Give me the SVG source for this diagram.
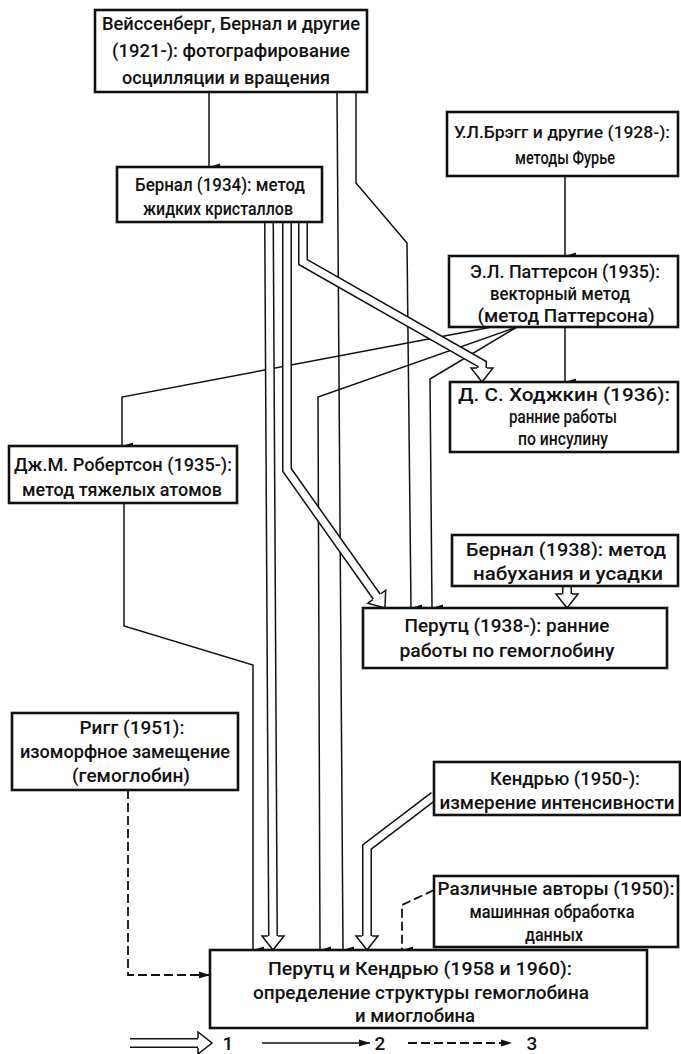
<svg xmlns="http://www.w3.org/2000/svg" width="681" height="1054" viewBox="0 0 681 1054">
<defs>
<marker id="arr" markerWidth="8" markerHeight="12" refX="4" refY="11" orient="auto" markerUnits="userSpaceOnUse" viewBox="0 0 8 12">
<path d="M0.5,0 L4,11 L7.5,0 Z" fill="#111"/>
</marker>
<marker id="arrH" markerWidth="12" markerHeight="8" refX="11" refY="4" orient="0" markerUnits="userSpaceOnUse" viewBox="0 0 12 8">
<path d="M0,0.5 L11,4 L0,7.5 Z" fill="#111"/>
</marker>
<marker id="arrD" markerWidth="8" markerHeight="12" refX="4" refY="11" orient="90" markerUnits="userSpaceOnUse" viewBox="0 0 8 12">
<path d="M0.5,0 L4,11 L7.5,0 Z" fill="#111"/>
</marker>
<path id="head" d="M-5,-14 H-11 L0,0 L11,-14 H5" fill="#fff" stroke="#111" stroke-width="1.5" stroke-linejoin="miter"/>
</defs>
<style>
.box{fill:#fff;stroke:#111;stroke-width:2.6}
.t{font-family:Roboto,"Liberation Sans","DejaVu Sans",sans-serif;font-size:19px;font-weight:500;fill:#111;text-anchor:middle}
.s{font-size:17.5px}
.xs{font-size:16.5px}
.c{fill:none;stroke:#111;stroke-width:1.5}
.dsh{fill:none;stroke:#111;stroke-width:1.8;stroke-dasharray:9 4}
.dbo{fill:none;stroke:#111;stroke-width:10;stroke-linejoin:miter}
.dbi{fill:none;stroke:#fff;stroke-width:7;stroke-linejoin:miter}
</style>
<rect width="681" height="1054" fill="#fff"/>

<g id="connectors">
<path class="c" d="M209,92 V167" marker-end="url(#arrD)"/>
<path class="c" d="M337,92 L343,950" marker-end="url(#arr)"/>
<path class="c" d="M356,92 V183 L407,243 L411,608" marker-end="url(#arr)"/>
<path class="c" d="M565,176 V256" marker-end="url(#arrD)"/>
<path class="c" d="M565,327 V382" marker-end="url(#arrD)"/>
<path class="c" d="M492,327 L122,397 V446" marker-end="url(#arrD)"/>
<path class="c" d="M517,327 L318,397 L320,950" marker-end="url(#arr)"/>
<path class="c" d="M517,327 L430,379 L432,608" marker-end="url(#arr)"/>
<path class="c" d="M124,503 V626 L253,665 V950" marker-end="url(#arrD)"/>
<path class="dsh" d="M128,790 V975 H210" marker-end="url(#arrH)"/>
<path class="dsh" d="M434,890 L402,905 V950" marker-end="url(#arrD)"/>

<path class="dbo" d="M303,222 V262 L482,364 V370"/>
<path class="dbi" d="M303,222 V262 L482,364 V370"/>
<use href="#head" transform="translate(482,382)"/>

<path class="dbo" d="M287,222 V470 L377,597"/>
<path class="dbi" d="M287,222 V470 L377,597"/>
<use href="#head" transform="translate(385,608) rotate(-36)"/>

<path class="dbo" d="M269,222 L273,938"/>
<path class="dbi" d="M269,222 L273,938"/>
<use href="#head" transform="translate(273,950)"/>

<path class="dbo" d="M567,586 V597"/>
<path class="dbi" d="M567,586 V597"/>
<use href="#head" transform="translate(567,608)"/>

<path class="dbo" d="M434,796 L367,847 V938"/>
<path class="dbi" d="M434,796 L367,847 V938"/>
<use href="#head" transform="translate(367,950)"/>
</g>

<g id="n-weissenberg">
<rect class="box" x="95" y="10" width="272" height="82"/>
<text class="t" x="231" y="30" textLength="258" lengthAdjust="spacingAndGlyphs">Вейссенберг, Бернал и другие</text>
<text class="t" x="231" y="57" textLength="238" lengthAdjust="spacingAndGlyphs">(1921-): фотографирование</text>
<text class="t" x="226" y="84" textLength="208" lengthAdjust="spacingAndGlyphs">осцилляции и вращения</text>
</g>
<g id="n-bernal1934">
<rect class="box" x="117" y="167" width="205" height="55"/>
<text class="t" x="220" y="191" textLength="170" lengthAdjust="spacingAndGlyphs">Бернал (1934): метод</text>
<text class="t" x="218" y="215" textLength="150" lengthAdjust="spacingAndGlyphs">жидких кристаллов</text>
</g>
<g id="n-bragg">
<rect class="box" x="447" y="112" width="231" height="64"/>
<text class="t xs" x="562" y="138" textLength="216" lengthAdjust="spacingAndGlyphs">У.Л.Брэгг и другие (1928-):</text>
<text class="t" x="565" y="164" textLength="100" lengthAdjust="spacingAndGlyphs">методы Фурье</text>
</g>
<g id="n-patterson">
<rect class="box" x="449" y="256" width="229" height="71"/>
<text class="t s" x="565" y="278" textLength="190" lengthAdjust="spacingAndGlyphs">Э.Л. Паттерсон (1935):</text>
<text class="t s" x="560" y="300" textLength="140" lengthAdjust="spacingAndGlyphs">векторный метод</text>
<text class="t s" x="566" y="322" textLength="177" lengthAdjust="spacingAndGlyphs">(метод Паттерсона)</text>
</g>
<g id="n-hodgkin">
<rect class="box" x="450" y="382" width="228" height="70"/>
<text class="t s" x="564" y="401" textLength="212" lengthAdjust="spacingAndGlyphs">Д. С. Ходжкин (1936):</text>
<text class="t s" x="563" y="423" textLength="108" lengthAdjust="spacingAndGlyphs">ранние работы</text>
<text class="t s" x="563" y="445" textLength="90" lengthAdjust="spacingAndGlyphs">по инсулину</text>
</g>
<g id="n-robertson">
<rect class="box" x="9" y="446" width="228" height="57"/>
<text class="t" x="123" y="471" textLength="218" lengthAdjust="spacingAndGlyphs">Дж.М. Робертсон (1935-):</text>
<text class="t" x="122" y="496" textLength="200" lengthAdjust="spacingAndGlyphs">метод тяжелых атомов</text>
</g>
<g id="n-bernal1938">
<rect class="box" x="452" y="535" width="226" height="51"/>
<text class="t" x="566" y="556" textLength="200" lengthAdjust="spacingAndGlyphs">Бернал (1938): метод</text>
<text class="t" x="568" y="580" textLength="190" lengthAdjust="spacingAndGlyphs">набухания и усадки</text>
</g>
<g id="n-perutz1938">
<rect class="box" x="363" y="608" width="304" height="60"/>
<text class="t" x="507" y="632" textLength="205" lengthAdjust="spacingAndGlyphs">Перутц (1938-): ранние</text>
<text class="t" x="507" y="657" textLength="215" lengthAdjust="spacingAndGlyphs">работы по гемоглобину</text>
</g>
<g id="n-rigg">
<rect class="box" x="12" y="713" width="226" height="77"/>
<text class="t" x="132" y="734" textLength="105" lengthAdjust="spacingAndGlyphs">Ригг (1951):</text>
<text class="t" x="125" y="758" textLength="210" lengthAdjust="spacingAndGlyphs">изоморфное замещение</text>
<text class="t" x="131" y="782" textLength="118" lengthAdjust="spacingAndGlyphs">(гемоглобин)</text>
</g>
<g id="n-kendrew">
<rect class="box" x="434" y="762" width="246" height="53"/>
<text class="t" x="565" y="785" textLength="150" lengthAdjust="spacingAndGlyphs">Кендрью (1950-):</text>
<text class="t" x="557" y="809" textLength="235" lengthAdjust="spacingAndGlyphs">измерение интенсивности</text>
</g>
<g id="n-various">
<rect class="box" x="434" y="876" width="244" height="71"/>
<text class="t" x="556" y="895" textLength="237" lengthAdjust="spacingAndGlyphs">Различные авторы (1950):</text>
<text class="t" x="552" y="918" textLength="165" lengthAdjust="spacingAndGlyphs">машинная обработка</text>
<text class="t" x="554" y="941" textLength="58" lengthAdjust="spacingAndGlyphs">данных</text>
</g>
<g id="n-final">
<rect class="box" x="210" y="950" width="437" height="78"/>
<text class="t" x="420" y="975" textLength="304" lengthAdjust="spacingAndGlyphs">Перутц и Кендрью (1958 и 1960):</text>
<text class="t" x="421" y="999" textLength="336" lengthAdjust="spacingAndGlyphs">определение  структуры гемоглобина</text>
<text class="t" x="415" y="1022" textLength="120" lengthAdjust="spacingAndGlyphs">и миоглобина</text>
</g>

<g id="legend">
<path class="dbo" d="M130,1043 H201"/>
<path class="dbi" d="M128,1043 H201"/>
<use href="#head" transform="translate(212,1043) rotate(-90)"/>
<text class="t" x="228" y="1050">1</text>
<path class="c" d="M262,1043 H370" marker-end="url(#arrH)"/>
<text class="t" x="380" y="1050">2</text>
<path class="dsh" d="M408,1043 H512" marker-end="url(#arrH)"/>
<text class="t" x="532" y="1050">3</text>
</g>
</svg>
